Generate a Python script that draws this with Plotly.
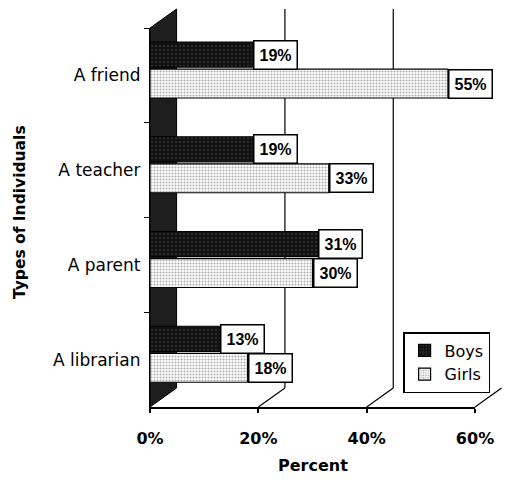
import plotly.graph_objects as go

# Survey data: share of boys and girls naming each type of individual
categories = ["A friend", "A teacher", "A parent", "A librarian"]
boys = [19, 19, 31, 13]
girls = [55, 33, 30, 18]
x_tick_values = [0, 20, 40, 60]
x_tick_labels = ["0%", "20%", "40%", "60%"]

W, H = 506, 483
MARGIN = dict(l=150, r=26, t=28, b=76)
X_MAX = 60
PLOT_W = W - MARGIN["l"] - MARGIN["r"]
PLOT_H = H - MARGIN["t"] - MARGIN["b"]
BAND_PX = PLOT_H / len(categories)

# pseudo-3D depth of the chart box (paper units)
DX = 27 / PLOT_W
DY = 19 / PLOT_H

# bar placement inside each category band (category units)
BOYS_OFFSET, BOYS_WIDTH = -0.352, 0.264
GIRLS_OFFSET, GIRLS_WIDTH = -0.067, 0.306

SANS = "DejaVu Sans, Arial, sans-serif"
ARIAL = "Liberation Sans, Arial, sans-serif"

fig = go.Figure()
fig.add_trace(go.Bar(
    y=categories, x=boys, orientation="h", name="Boys",
    offset=BOYS_OFFSET, width=BOYS_WIDTH,
    marker=dict(
        color="#121212",
        line=dict(color="black", width=1.2),
        pattern=dict(shape=".", fgcolor="#a0a0a0", bgcolor="#121212",
                     size=4, solidity=0.1),
    ),
    hoverinfo="skip",
))
fig.add_trace(go.Bar(
    y=categories, x=girls, orientation="h", name="Girls",
    offset=GIRLS_OFFSET, width=GIRLS_WIDTH,
    marker=dict(
        color="#c8c8c8",
        line=dict(color="black", width=1.2),
        pattern=dict(shape=".", fgcolor="#5e5e5e", bgcolor="#ffffff",
                     size=3, solidity=0.38),
    ),
    hoverinfo="skip",
))

# value labels in white boxes at the end of each bar
annotations = []
for series, offset, width in ((boys, BOYS_OFFSET, BOYS_WIDTH),
                              (girls, GIRLS_OFFSET, GIRLS_WIDTH)):
    shift = -(offset + width / 2) * BAND_PX
    for cat, val in zip(categories, series):
        annotations.append(dict(
            x=val, y=cat, xref="x", yref="y",
            text=f"<b>{val}%</b>", showarrow=False,
            xanchor="left", yanchor="middle", yshift=shift,
            bgcolor="white", bordercolor="black", borderwidth=1.5, borderpad=5,
            font=dict(family=ARIAL, size=16, color="black"),
        ))

# axis titles
annotations.append(dict(
    x=0.5, y=-(465 - (H - MARGIN["b"])) / PLOT_H, xref="paper", yref="paper",
    text="<b>Percent</b>", showarrow=False, xanchor="center", yanchor="middle",
    font=dict(family=SANS, size=16, color="black"),
))
annotations.append(dict(
    x=-(MARGIN["l"] - 18) / PLOT_W, y=((H - MARGIN["b"]) - 212) / PLOT_H,
    xref="paper", yref="paper", textangle=-90,
    text="<b>Types of Individuals</b>", showarrow=False,
    xanchor="center", yanchor="middle",
    font=dict(family=SANS, size=15.5, color="black"),
))

# 3D box: side wall, back-wall gridlines and floor edges
shapes = [dict(
    type="path", xref="paper", yref="paper", layer="below",
    path=f"M 0 1 L 0 0 L {DX} {DY} L {DX} {1 + DY} Z",
    fillcolor="#1e1e1e", line=dict(color="black", width=1),
)]
for v in x_tick_values[1:]:
    xf = v / X_MAX
    shapes.append(dict(type="line", xref="paper", yref="paper", layer="below",
                       x0=xf, y0=0, x1=xf + DX, y1=DY,
                       line=dict(color="black", width=1.2)))
    if v < X_MAX:
        shapes.append(dict(type="line", xref="paper", yref="paper", layer="below",
                           x0=xf + DX, y0=DY, x1=xf + DX, y1=1 + DY,
                           line=dict(color="black", width=1.2)))

fig.update_layout(
    width=W, height=H, margin=MARGIN,
    paper_bgcolor="white", plot_bgcolor="rgba(0,0,0,0)",
    barmode="overlay", showlegend=True,
    annotations=annotations, shapes=shapes,
    legend=dict(
        x=(407 - MARGIN["l"]) / PLOT_W, y=((H - MARGIN["b"]) - 332) / PLOT_H,
        xanchor="left", yanchor="top", traceorder="normal",
        bgcolor="white", bordercolor="black", borderwidth=1.5,
        font=dict(family=SANS, size=16, color="black"),
        itemwidth=30, tracegroupgap=0,
    ),
    xaxis=dict(
        range=[0, X_MAX], tickvals=x_tick_values, ticktext=x_tick_labels,
        ticks="outside", ticklen=4, tickwidth=1.5, tickcolor="black",
        showline=True, linecolor="black", linewidth=2,
        showgrid=False, zeroline=False, ticklabelstandoff=12,
        tickfont=dict(family=SANS, size=16, color="black", weight="bold"),
        fixedrange=True,
    ),
    yaxis=dict(
        categoryorder="array", categoryarray=categories, autorange="reversed",
        ticks="outside", tickson="boundaries", ticklen=5, tickwidth=1.2,
        tickcolor="black", showline=True, linecolor="black", linewidth=1.2,
        showgrid=False, zeroline=False, ticklabelstandoff=5,
        tickfont=dict(family=SANS, size=17, color="black"),
        fixedrange=True,
    ),
)

fig.write_html("out.html")
